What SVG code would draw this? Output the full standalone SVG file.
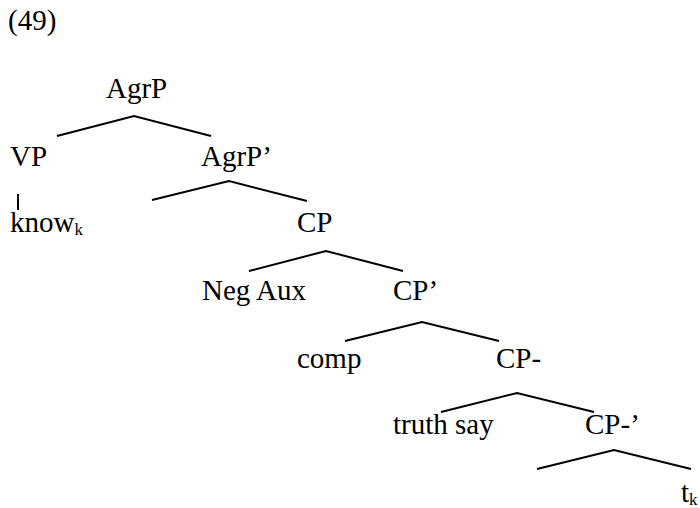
<svg xmlns="http://www.w3.org/2000/svg" width="700" height="508" viewBox="0 0 700 508">
<style>
text{font-family:"Liberation Serif","Times New Roman",serif;font-size:29px;fill:#000}
.sub{font-size:17px}
line,polyline{stroke:#000;stroke-width:2;fill:none}
</style>
<rect width="700" height="508" fill="#fff"/>
<text id="label49" x="8" y="30">(49)</text>
<g id="connectors">
<polyline points="57,136 134,116 211,136"/>
<line x1="18" y1="194" x2="18" y2="210"/>
<polyline points="152,200 229,181 307,201"/>
<polyline points="249,271 326,251 403,271"/>
<polyline points="345,341 422,322 499,341"/>
<polyline points="441,412 517,393 594,412"/>
<polyline points="537,469 614,450 691,469"/>
</g>
<g id="n-agrp"><text x="106" y="98">AgrP</text></g>
<g id="n-vp"><text x="10" y="166">VP</text></g>
<g id="n-agrp1"><text x="201" y="166">AgrP’</text></g>
<g id="n-know"><text x="10" y="232">know<tspan class="sub" dy="3">k</tspan></text></g>
<g id="n-cp"><text x="297" y="232">CP</text></g>
<g id="n-negaux"><text x="202" y="300">Neg Aux</text></g>
<g id="n-cp1"><text x="393" y="300">CP’</text></g>
<g id="n-comp"><text x="297" y="368">comp</text></g>
<g id="n-cpm"><text x="496" y="368">CP-</text></g>
<g id="n-truthsay"><text x="393" y="434">truth say</text></g>
<g id="n-cpm1"><text x="585" y="434">CP-’</text></g>
<g id="n-tk"><text x="681" y="502">t<tspan class="sub" dy="3">k</tspan></text></g>
</svg>
